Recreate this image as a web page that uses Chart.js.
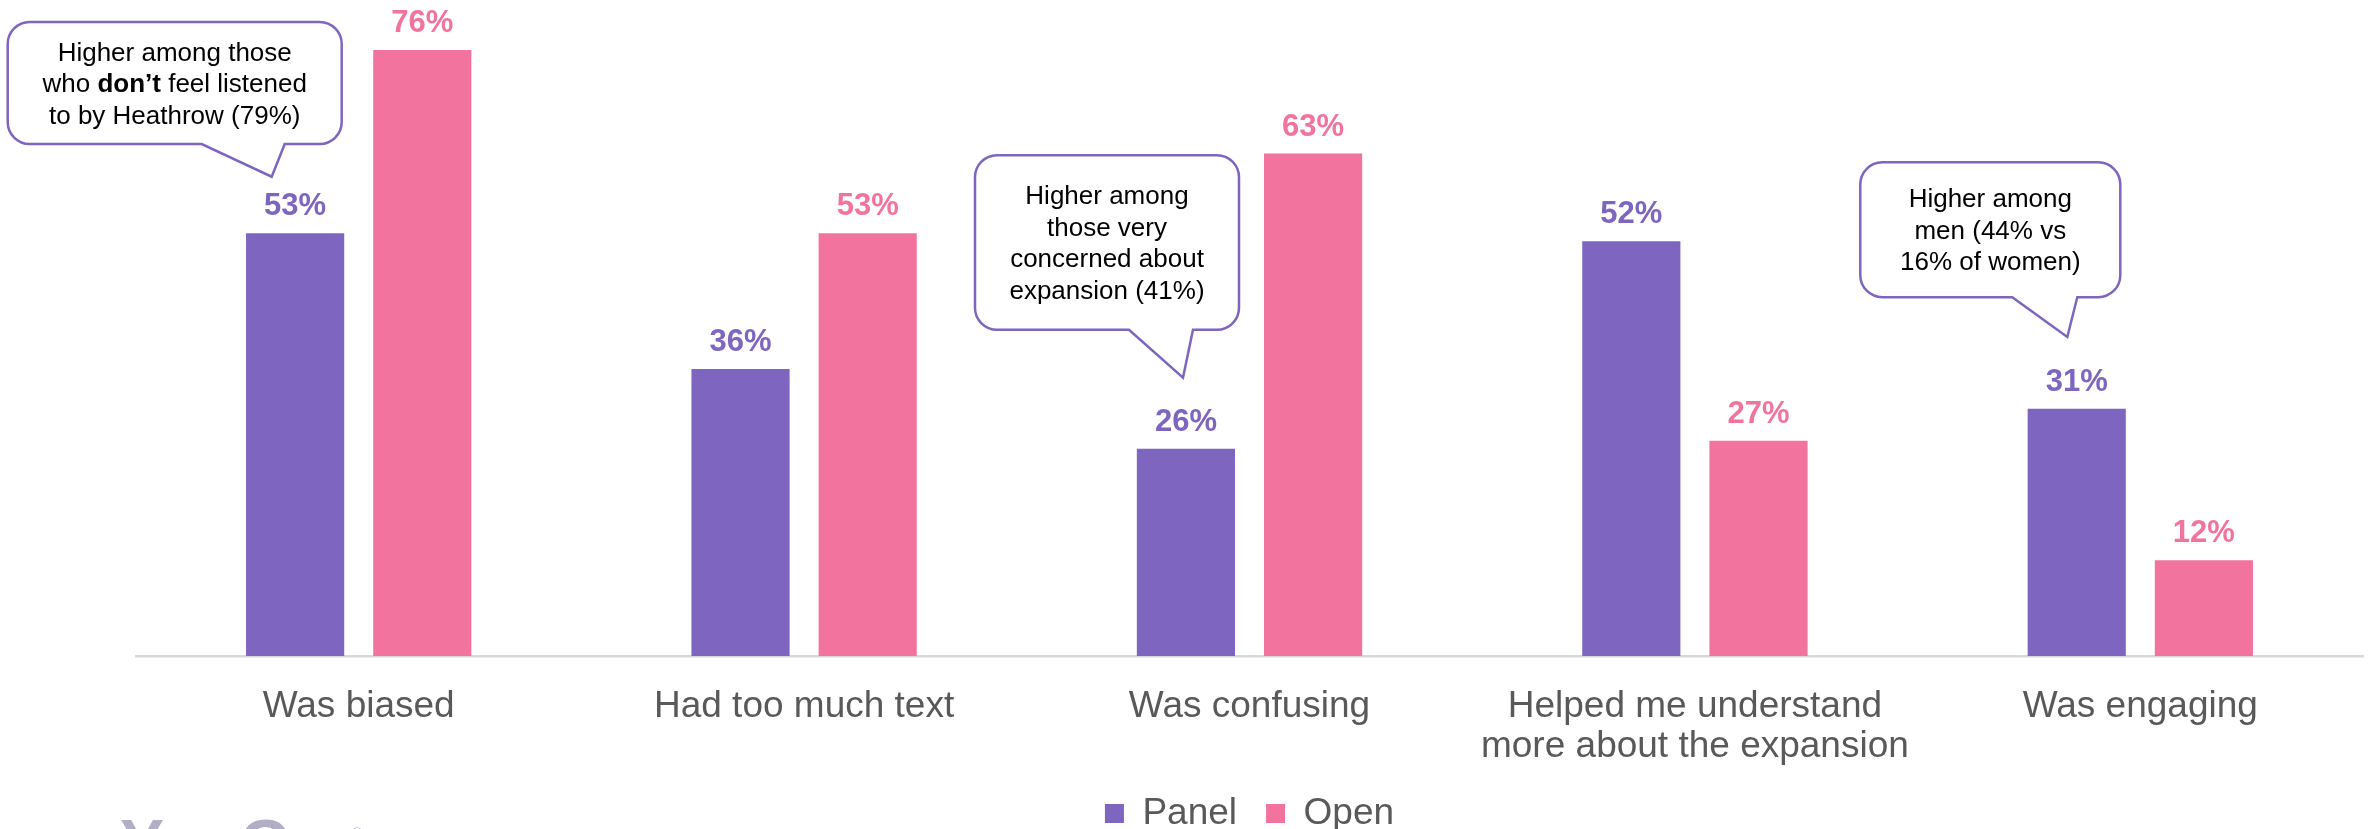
<!DOCTYPE html>
<html>
<head>
<meta charset="utf-8">
<script src="https://cdn.jsdelivr.net/npm/chart.js@4.4.1/dist/chart.umd.min.js"></script>
<style>
  html, body { margin: 0; padding: 0; background: #fff; }
  #wrap { width: 2376px; height: 829px; position: relative; }
</style>
</head>
<body>
<div id="wrap"><canvas id="feedbackChart"></canvas></div>
<script>
// chart data
const categories = [
  'Was biased',
  'Had too much text',
  'Was confusing',
  ['Helped me understand', 'more about the expansion'],
  'Was engaging'
];
const panelValues = [53, 36, 26, 52, 31];
const openValues = [76, 53, 63, 27, 12];

const PURPLE = '#7D65C0';
const PINK = '#F3739F';
const FONT = '"Liberation Sans", Arial, sans-serif';

// speech bubble notes, x offsets are px from the category centre, y in %
const callouts = [
  {
    index: 0,
    box: [-351, -17, 79.5, 64.2],
    tail: [-157, -74, -87, 60.1],
    lines: [
      [['Higher among those', false]],
      [['who ', false], ['don’t', true], [' feel listened', false]],
      [['to by Heathrow (79%)', false]]
    ]
  },
  {
    index: 2,
    box: [-274.5, -10.5, 62.8, 40.9],
    tail: [-120.5, -56.5, -66.5, 34.9],
    lines: [
      [['Higher among', false]],
      [['those very', false]],
      [['concerned about', false]],
      [['expansion (41%)', false]]
    ]
  },
  {
    index: 4,
    box: [-280, -20, 61.9, 45.0],
    tail: [-128, -63, -73, 40.0],
    lines: [
      [['Higher among', false]],
      [['men (44% vs', false]],
      [['16% of women)', false]]
    ]
  }
];

const valueLabels = {
  id: 'valueLabels',
  afterDatasetsDraw(chart) {
    const ctx = chart.ctx;
    ctx.save();
    ctx.font = 'bold 31px ' + FONT;
    ctx.textAlign = 'center';
    ctx.textBaseline = 'alphabetic';
    chart.data.datasets.forEach((ds, i) => {
      const meta = chart.getDatasetMeta(i);
      ctx.fillStyle = ds.backgroundColor;
      meta.data.forEach((bar, j) => {
        ctx.fillText(ds.data[j] + '%', bar.x, bar.y - 18);
      });
    });
    ctx.restore();
  }
};

const bubbles = {
  id: 'bubbles',
  afterDraw(chart) {
    const ctx = chart.ctx;
    const xs = chart.scales.x, ys = chart.scales.y;
    callouts.forEach(c => {
      const cx = xs.getPixelForValue(c.index);
      const l = cx + c.box[0], r = cx + c.box[1];
      const t = ys.getPixelForValue(c.box[2]), b = ys.getPixelForValue(c.box[3]);
      const rad = 22;
      ctx.save();
      ctx.beginPath();
      ctx.moveTo(l + rad, t);
      ctx.lineTo(r - rad, t);
      ctx.arcTo(r, t, r, t + rad, rad);
      ctx.lineTo(r, b - rad);
      ctx.arcTo(r, b, r - rad, b, rad);
      ctx.lineTo(cx + c.tail[1], b);
      ctx.lineTo(cx + c.tail[2], ys.getPixelForValue(c.tail[3]));
      ctx.lineTo(cx + c.tail[0], b);
      ctx.lineTo(l + rad, b);
      ctx.arcTo(l, b, l, b - rad, rad);
      ctx.lineTo(l, t + rad);
      ctx.arcTo(l, t, l + rad, t, rad);
      ctx.closePath();
      ctx.fillStyle = '#fff';
      ctx.fill();
      ctx.lineWidth = 2.5;
      ctx.strokeStyle = PURPLE;
      ctx.stroke();

      // text
      ctx.fillStyle = '#000';
      ctx.textBaseline = 'middle';
      ctx.textAlign = 'left';
      const lh = 31.5;
      const midX = (l + r) / 2;
      const y0 = (t + b) / 2 + 2 - lh * (c.lines.length - 1) / 2;
      c.lines.forEach((segs, k) => {
        let w = 0;
        segs.forEach(s => {
          ctx.font = (s[1] ? 'bold ' : '') + '26px ' + FONT;
          w += ctx.measureText(s[0]).width;
        });
        let x = midX - w / 2;
        segs.forEach(s => {
          ctx.font = (s[1] ? 'bold ' : '') + '26px ' + FONT;
          ctx.fillText(s[0], x, y0 + k * lh);
          x += ctx.measureText(s[0]).width;
        });
      });
      ctx.restore();
    });

    // cropped logo at the bottom left
    ctx.save();
    ctx.fillStyle = '#B1AEC6';
    ctx.font = 'bold 66px ' + FONT;
    ctx.textBaseline = 'alphabetic';
    ctx.textAlign = 'left';
    ctx.fillText('YouGov', 120, 866);
    ctx.font = '14px ' + FONT;
    ctx.fillText('®', 352, 838);
    ctx.restore();
  }
};

const ctx = document.getElementById('feedbackChart');

new Chart(ctx, {
  type: 'bar',
  data: {
    labels: categories,
    datasets: [
      {
        label: 'Panel',
        data: panelValues,
        backgroundColor: PURPLE,
        borderWidth: 0,
        categoryPercentage: 0.571,
        barPercentage: 0.772
      },
      {
        label: 'Open',
        data: openValues,
        backgroundColor: PINK,
        borderWidth: 0,
        categoryPercentage: 0.571,
        barPercentage: 0.772
      }
    ]
  },
  options: {
    responsive: true,
    maintainAspectRatio: false,
    animation: false,
    layout: {
      padding: { left: 136, right: 13, top: 18, bottom: -13 }
    },
    scales: {
      x: {
        grid: { display: false, drawTicks: false },
        border: { display: true, color: '#D9D9D9', width: 2.5 },
        ticks: {
          color: '#595959',
          font: { family: FONT, size: 37, lineHeight: 1.1 },
          padding: 30,
          maxRotation: 0,
          autoSkip: false
        },
        afterFit(scale) { scale.height = 110; }
      },
      y: {
        display: false,
        min: 0,
        max: 80
      }
    },
    plugins: {
      legend: {
        position: 'bottom',
        labels: {
          boxWidth: 19,
          boxHeight: 19,
          padding: 29,
          color: '#595959',
          font: { family: FONT, size: 37 }
        }
      },
      tooltip: { enabled: false }
    }
  },
  plugins: [valueLabels, bubbles]
});
</script>
</body>
</html>
